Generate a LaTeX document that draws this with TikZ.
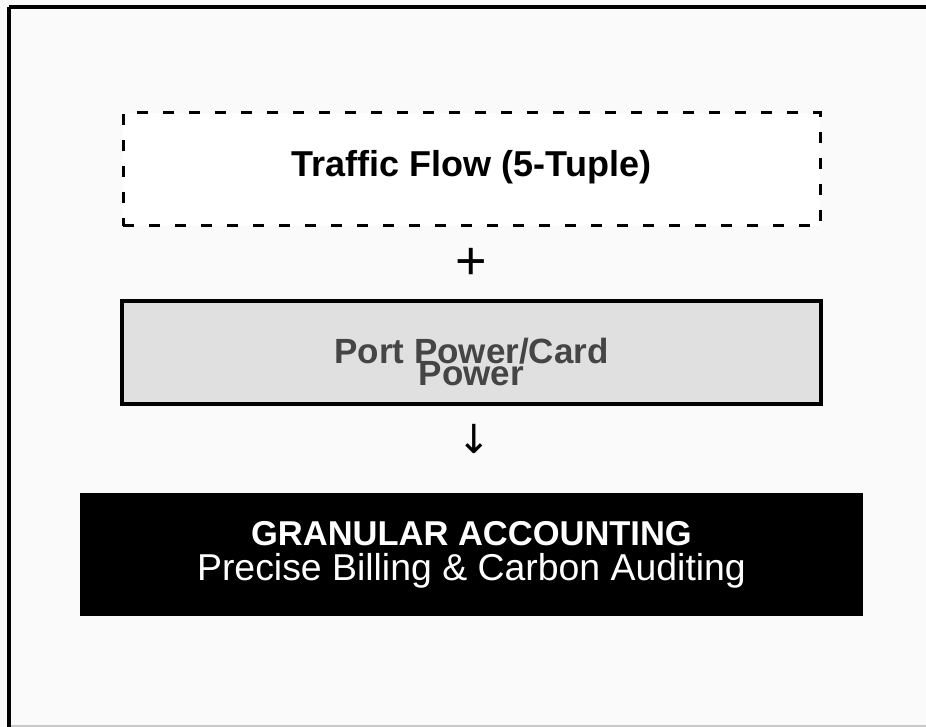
\documentclass[tikz,border=0pt]{standalone}
\usepackage{fontspec}
\setmainfont{Liberation Sans}
\newfontfamily\symfont{DejaVu Sans}
\definecolor{pagebg}{HTML}{FAFAFA}
\definecolor{cardgray}{HTML}{E0E0E0}
\definecolor{cardtext}{HTML}{454545}
\definecolor{edgegray}{HTML}{C8C8C8}
\begin{document}
\begin{tikzpicture}[x=1pt,y=-1pt,
  every node/.style={inner sep=0pt,outer sep=0pt},
  flowbox/.style={draw=black,line width=3pt,dash pattern=on 11pt off 15pt,
    fill=white,minimum width=697pt,minimum height=113pt},
  flowtext/.style={font=\fontsize{36}{40}\selectfont\bfseries},
  powerbox/.style={draw=black,line width=3.5pt,fill=cardgray,
    minimum width=699pt,minimum height=103pt},
  powertext/.style={align=center,text=cardtext,
    font={\fontsize{35}{22}\selectfont\bfseries\lineskiplimit=-100pt\lineskip=0pt}},
  resultbox/.style={fill=black,minimum width=783pt,minimum height=123pt},
  resulttext/.style={align=center,text=white,
    font={\fontsize{34.5}{35}\selectfont\lineskiplimit=-100pt\lineskip=0pt}},
  joiner/.style={font=\fontsize{54}{54}\selectfont},
  pointer/.style={font=\symfont\fontsize{40}{40}\selectfont}]
  % page and outer frame
  \useasboundingbox (0,0) rectangle (926,727);
  \fill[pagebg] (0,0) rectangle (926,727);
  \draw[edgegray,line width=1.5pt] (9,726.2) -- (926,726.2);
  \draw[line width=4pt] (9,7) -- (940,7) (9,7) -- (9,730);

  % traffic flow (dashed)
  \node[flowbox] (flow) at (471.5,169.5) {};
  \node[flowtext,anchor=base] (flowlabel) at ([yshift=-7.5pt]flow.center)
    {Traffic Flow (5-Tuple)};

  % plus sign
  \node[joiner] (plus) at (471,264) {+};

  % port / card power (last baseline is the node's base)
  \node[powerbox] (power) at (471.5,352.5) {};
  \node[powertext,anchor=base] (powerlabel) at ([yshift=-32.5pt]power.center)
    {Port Power/Card\\Power};

  % down arrow
  \node[pointer] (down) at (474,439) {↓};

  % granular accounting
  \node[resultbox] (result) at (471.5,554.5) {};
  \node[resulttext,anchor=base] (resultlabel) at ([yshift=-25.5pt]result.center)
    {{\bfseries GRANULAR ACCOUNTING}\\{\fontsize{37.4}{35}\selectfont Precise Billing \& Carbon Auditing}};
\end{tikzpicture}
\end{document}
